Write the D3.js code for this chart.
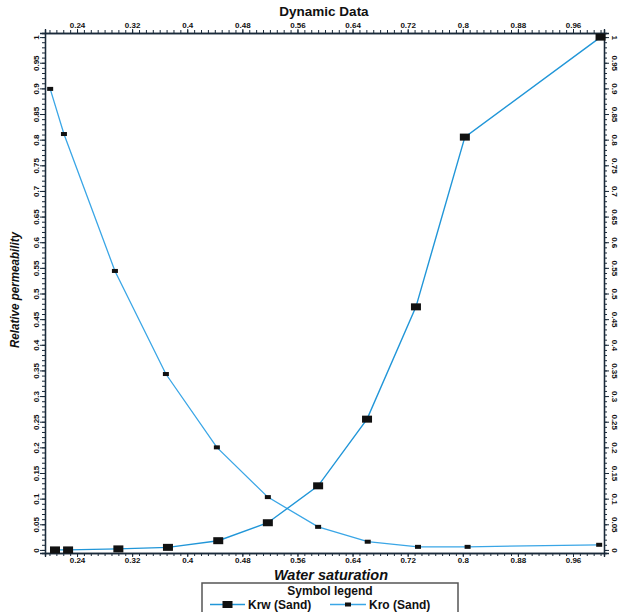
<!DOCTYPE html>
<html>
<head>
<meta charset="utf-8">
<script src="https://cdn.jsdelivr.net/npm/d3@7"></script>
<style>
  body { margin: 0; background: #fff; }
  svg { display: block; font-family: "Liberation Sans", Arial, sans-serif; }
</style>
</head>
<body>
<svg id="chart" width="625" height="612"></svg>
<script>
// water saturation values for each curve
const krwSw = [0.208, 0.227, 0.300, 0.372, 0.445, 0.517, 0.590, 0.661, 0.732, 0.803, 1.0];
const krwVal = [0, 0, 0.002, 0.005, 0.018, 0.053, 0.125, 0.255, 0.474, 0.805, 1.0];
const kroSw = [0.201, 0.221, 0.295, 0.369, 0.443, 0.517, 0.590, 0.662, 0.735, 0.807, 0.998];
const kroVal = [0.899, 0.811, 0.544, 0.343, 0.200, 0.103, 0.045, 0.016, 0.006, 0.006, 0.010];

const xTicks = [0.24, 0.32, 0.4, 0.48, 0.56, 0.64, 0.72, 0.8, 0.88, 0.96];
const yTicks = d3.range(0, 21).map(i => i / 20);

const svg = d3.select("#chart");
const lineColor = "#2196d8";
const kroColor = "#3aa6e6";

const x = d3.scaleLinear().domain([0.1935, 1.005]).range([45, 604]);
const y = d3.scaleLinear().domain([-0.006, 1.008]).range([553, 33]);

const fmt = d3.format(".2~f");

// minor ticks every 0.01
const xMinor = d3.range(20, 101).map(i => i / 100);
const yMinor = d3.range(0, 101).map(i => i / 100);

// bottom
svg.append("g").attr("transform", "translate(0,553)")
    .call(d3.axisBottom(x).tickValues(xMinor).tickSize(3).tickFormat(""));
const xb = svg.append("g").attr("transform", "translate(0,553)")
    .call(d3.axisBottom(x).tickValues(xTicks).tickSize(4).tickFormat(fmt));
// top
svg.append("g").attr("transform", "translate(0,33)")
    .call(d3.axisTop(x).tickValues(xMinor).tickSize(3).tickFormat(""));
const xt = svg.append("g").attr("transform", "translate(0,33)")
    .call(d3.axisTop(x).tickValues(xTicks).tickSize(4).tickFormat(fmt));
// left
svg.append("g").attr("transform", "translate(45,0)")
    .call(d3.axisLeft(y).tickValues(yMinor).tickSize(3).tickFormat(""));
const yl = svg.append("g").attr("transform", "translate(45,0)")
    .call(d3.axisLeft(y).tickValues(yTicks).tickSize(5).tickFormat(fmt));
// right
svg.append("g").attr("transform", "translate(604,0)")
    .call(d3.axisRight(y).tickValues(yMinor).tickSize(3).tickFormat(""));
const yr = svg.append("g").attr("transform", "translate(604,0)")
    .call(d3.axisRight(y).tickValues(yTicks).tickSize(5).tickFormat(fmt));

svg.selectAll(".domain").attr("stroke", "#1a2a3a").attr("stroke-width", 1.3);
svg.selectAll(".tick line").attr("stroke", "#1a2a3a");

[xb, xt].forEach(g => g.selectAll("text")
    .attr("font-size", 8).attr("font-weight", "bold").attr("fill", "#111")
    .attr("font-family", "Liberation Sans, Arial, sans-serif"));
xt.selectAll("text").attr("y", -5).attr("dy", null);
xb.selectAll("text").attr("y", 4.5).attr("dy", "0.71em");

yl.selectAll("text")
    .attr("x", null).attr("dy", null).attr("y", null)
    .attr("text-anchor", "middle")
    .attr("transform", "translate(-6,0) rotate(-90)")
    .attr("font-size", 8).attr("font-weight", "bold").attr("fill", "#111")
    .attr("font-family", "Liberation Sans, Arial, sans-serif");

yr.selectAll("text")
    .attr("x", null).attr("dy", null).attr("y", null)
    .attr("text-anchor", "middle")
    .attr("transform", "translate(8,0) rotate(90)")
    .attr("font-size", 8).attr("font-weight", "bold").attr("fill", "#111")
    .attr("font-family", "Liberation Sans, Arial, sans-serif");

// curves
const krw = krwSw.map((s, i) => ({ s: s, v: krwVal[i] }));
const kro = kroSw.map((s, i) => ({ s: s, v: kroVal[i] }));

const line = d3.line().x(d => x(d.s)).y(d => y(d.v));

svg.append("path").datum(kro)
    .attr("d", line).attr("fill", "none")
    .attr("stroke", kroColor).attr("stroke-width", 1.3);
svg.append("path").datum(krw)
    .attr("d", line).attr("fill", "none")
    .attr("stroke", lineColor).attr("stroke-width", 1.4);

svg.append("g").selectAll("rect").data(kro).enter()
    .append("rect")
    .attr("x", d => x(d.s) - 3).attr("y", d => y(d.v) - 2)
    .attr("width", 6).attr("height", 4)
    .attr("fill", "#111");

svg.append("g").selectAll("rect").data(krw).enter()
    .append("rect")
    .attr("x", d => x(d.s) - 5).attr("y", d => y(d.v) - 3.5)
    .attr("width", 10).attr("height", 7)
    .attr("fill", "#111");

// titles
svg.append("text").attr("x", 324).attr("y", 16)
    .attr("text-anchor", "middle").attr("font-size", 13.5).attr("font-weight", "bold")
    .attr("fill", "#111").text("Dynamic Data");

svg.append("text").attr("x", 331).attr("y", 580)
    .attr("text-anchor", "middle").attr("font-size", 14.5).attr("font-weight", "bold")
    .attr("font-style", "italic").attr("fill", "#111").text("Water saturation");

svg.append("text")
    .attr("transform", "translate(19,290) rotate(-90)")
    .attr("text-anchor", "middle").attr("font-size", 12).attr("font-style", "italic")
    .attr("font-weight", "bold").attr("textLength", 116).attr("lengthAdjust", "spacingAndGlyphs")
    .attr("fill", "#111").text("Relative permeability");

// legend
const lg = svg.append("g");
lg.append("rect").attr("x", 202).attr("y", 583).attr("width", 256).attr("height", 40)
    .attr("fill", "#fff").attr("stroke", "#555").attr("stroke-width", 1.5);
lg.append("text").attr("x", 330).attr("y", 595)
    .attr("text-anchor", "middle").attr("font-size", 12).attr("font-weight", "bold")
    .attr("fill", "#111").text("Symbol legend");

const legendItems = [
    { name: "Krw (Sand)", x0: 210, x1: 245, w: 10, h: 7, color: lineColor },
    { name: "Kro (Sand)", x0: 330, x1: 366, w: 6, h: 4, color: kroColor }
];
legendItems.forEach(it => {
    lg.append("line").attr("x1", it.x0).attr("x2", it.x1).attr("y1", 604.5).attr("y2", 604.5)
        .attr("stroke", it.color).attr("stroke-width", 1.4);
    lg.append("rect").attr("x", (it.x0 + it.x1) / 2 - it.w / 2).attr("y", 604.5 - it.h / 2)
        .attr("width", it.w).attr("height", it.h).attr("fill", "#111");
    lg.append("text").attr("x", it.x1 + 3).attr("y", 609)
        .attr("font-size", 12).attr("font-weight", "bold").attr("fill", "#111").text(it.name);
});
</script>
</body>
</html>
